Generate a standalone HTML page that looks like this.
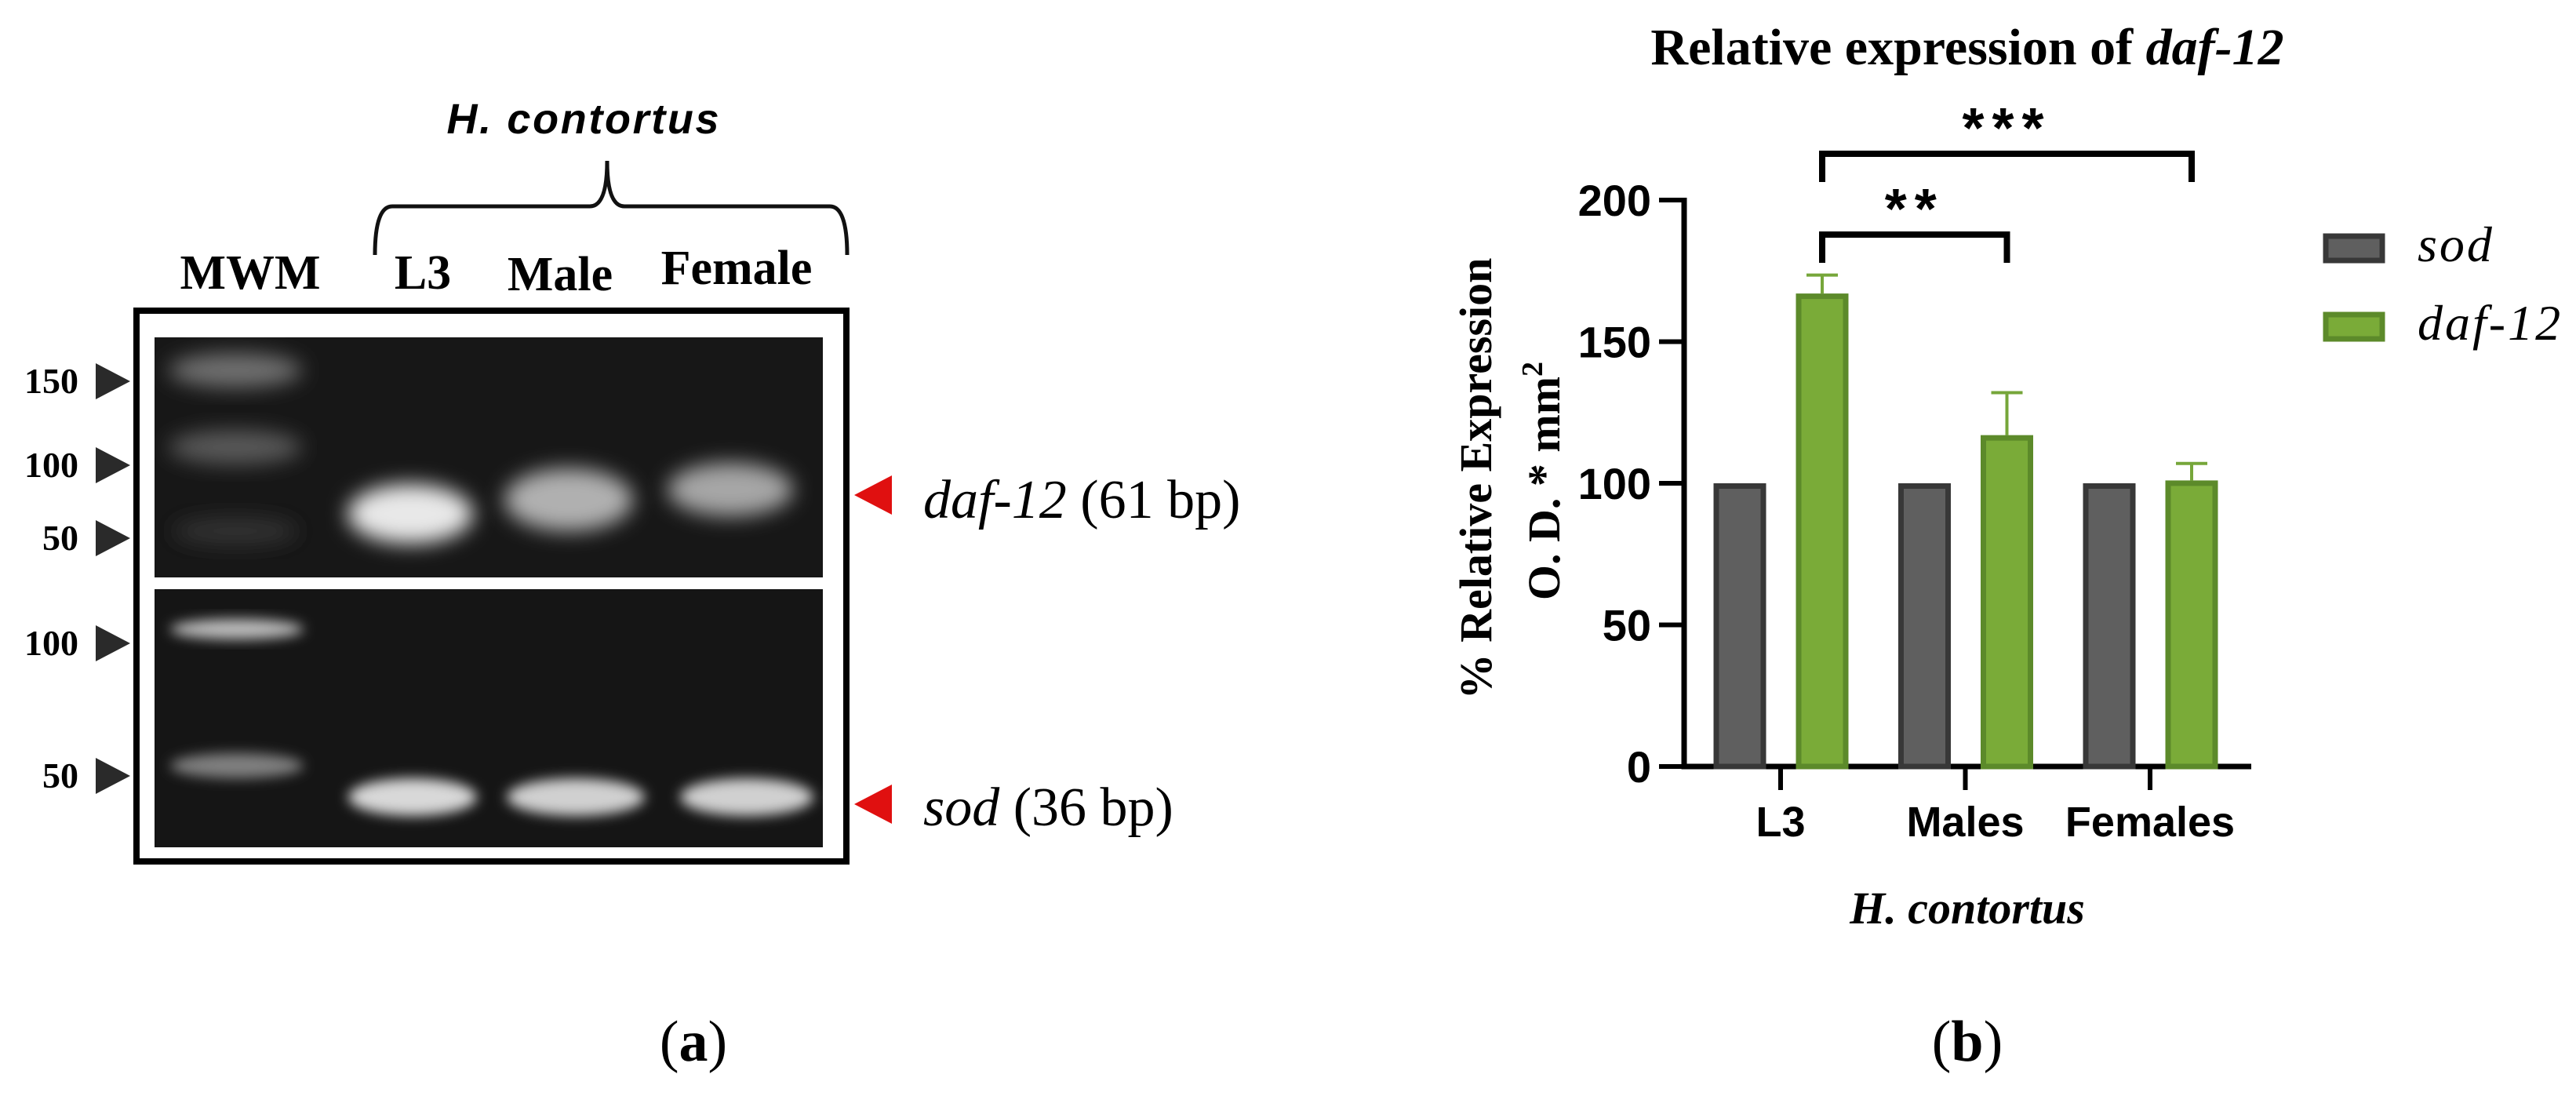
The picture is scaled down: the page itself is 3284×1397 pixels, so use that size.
<!DOCTYPE html>
<html><head><meta charset="utf-8">
<style>
html,body{margin:0;padding:0;background:#fff;}
body{width:3284px;height:1397px;overflow:hidden;}
svg{display:block;}
.tb{font-family:"Liberation Serif",serif;font-weight:bold;}
.ts{font-family:"Liberation Serif",serif;}
.ab{font-family:"Liberation Sans",sans-serif;font-weight:bold;}
</style></head>
<body>
<svg id="fig" width="3284" height="1397" viewBox="0 0 3284 1397" xmlns="http://www.w3.org/2000/svg">
<defs>
<filter id="blur" x="-50%" y="-50%" width="200%" height="200%"><feGaussianBlur stdDeviation="13"/></filter>
<filter id="blur2" x="-50%" y="-50%" width="200%" height="200%"><feGaussianBlur stdDeviation="8"/></filter>
<clipPath id="gtop"><rect x="197" y="430" width="852" height="306"/></clipPath>
<clipPath id="gbot"><rect x="197" y="751" width="852" height="329"/></clipPath>
</defs>

<g>
<text class="ab" x="743" y="170" font-size="54" font-style="italic" text-anchor="middle" textLength="347">H. contortus</text>
<path d="M478,325 Q478,263 500,263 L752,263 Q774,263 774,205 Q774,263 796,263 L1058,263 Q1080,263 1080,325" fill="none" stroke="#111" stroke-width="5"/>
<text class="tb" x="319" y="368" font-size="62" text-anchor="middle">MWM</text>
<text class="tb" x="539" y="368" font-size="62" text-anchor="middle">L3</text>
<text class="tb" x="714" y="370" font-size="62" text-anchor="middle">Male</text>
<text class="tb" x="939" y="362" font-size="62" text-anchor="middle">Female</text>

<rect x="174" y="396" width="905" height="702" fill="#fff" stroke="#000" stroke-width="8"/>
<rect x="197" y="430" width="852" height="306" fill="#171717"/>
<rect x="197" y="751" width="852" height="329" fill="#151515"/>
<g clip-path="url(#gtop)">
 <ellipse cx="300" cy="472" rx="85" ry="22" fill="#707070" filter="url(#blur)"/>
 <ellipse cx="300" cy="570" rx="85" ry="22" fill="#585858" filter="url(#blur)"/>
 <ellipse cx="300" cy="677" rx="80" ry="18" fill="#303030" filter="url(#blur)"/>
 <ellipse cx="523" cy="655" rx="80" ry="38" fill="#e8e8e8" filter="url(#blur)"/>
 <ellipse cx="725" cy="637" rx="82" ry="40" fill="#b0b0b0" filter="url(#blur)"/>
 <ellipse cx="931" cy="624" rx="80" ry="34" fill="#a6a6a6" filter="url(#blur)"/>
</g>
<g clip-path="url(#gbot)">
 <ellipse cx="302" cy="802" rx="85" ry="13" fill="#bcbcbc" filter="url(#blur2)"/>
 <ellipse cx="302" cy="976" rx="85" ry="16" fill="#808080" filter="url(#blur2)"/>
 <ellipse cx="526" cy="1016" rx="82" ry="24" fill="#d8d8d8" filter="url(#blur2)"/>
 <ellipse cx="734" cy="1016" rx="88" ry="24" fill="#d0d0d0" filter="url(#blur2)"/>
 <ellipse cx="952" cy="1016" rx="85" ry="24" fill="#d0d0d0" filter="url(#blur2)"/>
</g>

<g class="tb" font-size="46">
 <text x="100" y="501" text-anchor="end">150</text><path d="M122,463 L166,486 L122,509Z" fill="#2a2a2a"/>
 <text x="100" y="608" text-anchor="end">100</text><path d="M122,570 L166,593 L122,616Z" fill="#2a2a2a"/>
 <text x="100" y="701" text-anchor="end">50</text><path d="M122,663 L166,686 L122,709Z" fill="#2a2a2a"/>
 <text x="100" y="835" text-anchor="end">100</text><path d="M122,797 L166,820 L122,843Z" fill="#2a2a2a"/>
 <text x="100" y="1004" text-anchor="end">50</text><path d="M122,966 L166,989 L122,1012Z" fill="#2a2a2a"/>
</g>
<path d="M1137,606 L1089,631 L1137,656Z" fill="#e01010"/>
<path d="M1137,1000 L1089,1025 L1137,1050Z" fill="#e01010"/>
<text class="ts" x="1177" y="660" font-size="70"><tspan font-style="italic">daf-12</tspan> (61 bp)</text>
<text class="ts" x="1177" y="1052" font-size="70"><tspan font-style="italic">sod</tspan> (36 bp)</text>
<text class="ts" x="884" y="1352" font-size="74" text-anchor="middle">(<tspan font-weight="bold">a</tspan>)</text>
</g>

<g id="chart">
<text class="tb" x="2508" y="82" font-size="66" text-anchor="middle">Relative expression of <tspan font-style="italic">daf-12</tspan></text>
<g transform="translate(1883,610) rotate(-90)"><text class="tb" x="0" y="18" font-size="58" text-anchor="middle">% Relative Expression</text></g>
<g transform="translate(1970,613) rotate(-90)"><text class="tb" x="0" y="18" font-size="58" text-anchor="middle">O. D. * mm<tspan dy="-22" font-size="38">2</tspan></text></g>
<text class="tb" x="2508" y="1177" font-size="58" font-style="italic" text-anchor="middle">H. contortus</text>
<text class="ts" x="2508" y="1352" font-size="74" text-anchor="middle">(<tspan font-weight="bold">b</tspan>)</text>
<g>
 <rect x="2965" y="301" width="72" height="31" fill="#5f5f5f" stroke="#383838" stroke-width="7"/>
 <text class="ts" x="3082" y="333" font-size="64" font-style="italic" letter-spacing="3">sod</text>
 <rect x="2965" y="401" width="72" height="31" fill="#7aab38" stroke="#5c8a2a" stroke-width="7"/>
 <text class="ts" x="3082" y="433" font-size="64" font-style="italic" letter-spacing="3">daf-12</text>
</g>
</g>

<script>
const categories = ["L3", "Males", "Females"];
const sodValues = [100, 100, 100];
const dafValues = [167, 117, 101];
const dafErrors = [6.5, 15, 6];
const yTicks = [0, 50, 100, 150, 200];
const brackets = [["L3","Males","**"],["L3","Females","***"]];

const NS = "http://www.w3.org/2000/svg";
const chart = document.getElementById("chart");
const X0 = 2147, X1 = 2870, Y0 = 977, Y200 = 255;
function yScale(v){ return Y0 - (v/200)*(Y0-Y200); }
function xCenter(i){ return 2270 + i*235.5; }
const BW = 67, OFF = 52;
function mk(tag, attrs){ const e = document.createElementNS(NS, tag); for (const k in attrs) e.setAttribute(k, attrs[k]); chart.appendChild(e); return e; }

let ax = mk("path", {d:`M${X0},${Y200-3} L${X0},${Y0} L${X1},${Y0}`, fill:"none", stroke:"#000", "stroke-width":7});


yTicks.forEach(t => {
  const y = yScale(t);
  const tk = mk("line", {x1:X0-32, x2:X0, y1:y, y2:y, stroke:"#000", "stroke-width":6});
  
  
  const lb = mk("text", {x:X0-42, y:y+20, "font-size":56, "text-anchor":"end", class:"ab"});
  lb.textContent = t;
  
  
});
categories.forEach((c,i) => {
  const cx = xCenter(i);
  const tk = mk("line", {x1:cx, x2:cx, y1:Y0, y2:Y0+30, stroke:"#000", "stroke-width":6});
  
  
  const lb = mk("text", {x:cx, y:1066, "font-size":54, "text-anchor":"middle", class:"ab"});
  lb.textContent = c;
  
  
  const ys = yScale(sodValues[i]);
  const b1 = mk("rect", {x:cx-OFF-BW/2+3.5, y:ys+3.5, width:BW-7, height:Y0-ys-3.5, fill:"#5f5f5f", stroke:"#383838", "stroke-width":7});
  
  
  const yd = yScale(dafValues[i]);
  const ye = yScale(dafValues[i] + dafErrors[i]);
  const dx = cx + OFF + 1;
  const er = mk("path", {d:`M${dx},${yd} L${dx},${ye} M${dx-20},${ye} L${dx+20},${ye}`, stroke:"#76a63a", "stroke-width":4, fill:"none"});
  
  
  const b2 = mk("rect", {x:dx-BW/2+3.5, y:yd+3.5, width:BW-7, height:Y0-yd-3.5, fill:"#7aab38", stroke:"#5c8a2a", "stroke-width":7});
  
  
});
const bracketY = [299, 196];
brackets.forEach((b,k) => {
  const xa = xCenter(categories.indexOf(b[0])) + OFF + 1;
  const xb = xCenter(categories.indexOf(b[1])) + OFF + 1;
  const y = bracketY[k];
  const p = mk("path", {d:`M${xa},${y+36} L${xa},${y} L${xb},${y} L${xb},${y+36}`, fill:"none", stroke:"#000", "stroke-width":8});
  
  
  const t = mk("text", {x:(xa+xb)/2, y:y-8, "font-size":72, "text-anchor":"middle", class:"ab", "letter-spacing":"10"});
  t.textContent = b[2];
  
  
});
</script>
</svg>
</body></html>
